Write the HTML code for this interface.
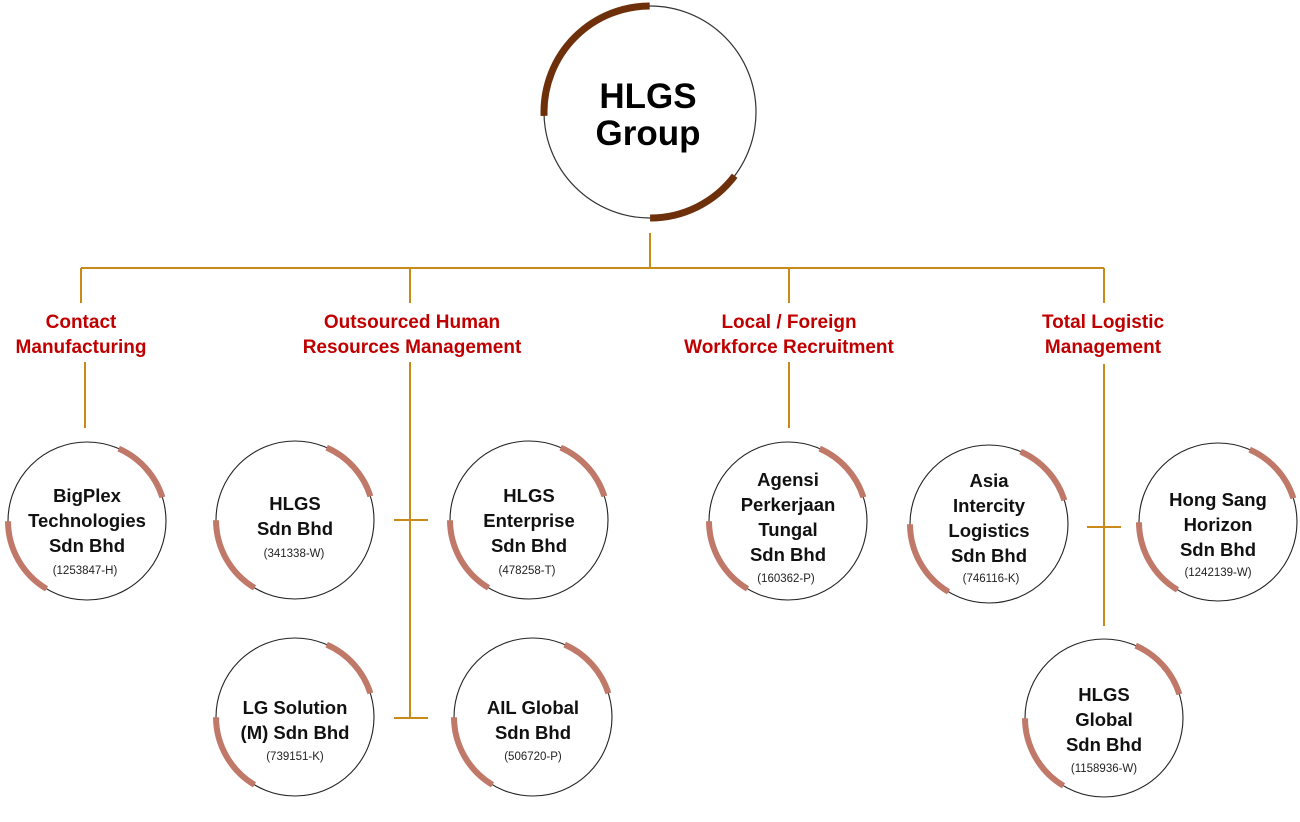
<!DOCTYPE html>
<html><head><meta charset="utf-8"><style>
html,body{margin:0;padding:0;background:#fff}
svg{display:block}
.l{stroke:#c98a1a;stroke-width:2;fill:none}
.c{fill:none;stroke:#222;stroke-width:1.1}
.a{fill:none;stroke:#c07868;stroke-width:6}
.lab{font-family:"Liberation Sans",sans-serif;font-weight:bold;font-size:19px;fill:#c00000;text-anchor:middle}
.n{font-family:"Liberation Sans",sans-serif;font-weight:bold;font-size:18.5px;fill:#111;text-anchor:middle}
.r{font-family:"Liberation Sans",sans-serif;font-size:11.5px;fill:#222;text-anchor:middle}
</style></head><body>
<svg width="1300" height="822" viewBox="0 0 1300 822">
<defs>
<g id="nd">
<circle class="c" r="79"/>
<circle class="a" r="79" pathLength="360" stroke-dasharray="49 311" stroke-dashoffset="66"/>
<circle class="a" r="79" pathLength="360" stroke-dasharray="59 301" stroke-dashoffset="239"/>
</g>
</defs>
<circle cx="650" cy="112" r="106" fill="none" stroke="#333" stroke-width="1.2"/>
<circle cx="650" cy="112" r="106" fill="none" stroke="#6e300b" stroke-width="7" pathLength="360" stroke-dasharray="92 268" stroke-dashoffset="182"/>
<circle cx="650" cy="112" r="106" fill="none" stroke="#6e300b" stroke-width="7" pathLength="360" stroke-dasharray="53 307" stroke-dashoffset="323"/>
<text x="648" y="108" font-family="Liberation Sans,sans-serif" font-weight="bold" font-size="35" text-anchor="middle" fill="#000">HLGS</text>
<text x="648" y="145" font-family="Liberation Sans,sans-serif" font-weight="bold" font-size="35" text-anchor="middle" fill="#000">Group</text>
<path class="l" d="M650 233V268M81 268H1104M81 268V303M410 268V303M789 268V303M1104 268V303"/>
<path class="l" d="M85 362V428M410 362V718M789 362V428M1104 364V626M394 520H428M394 718H428M1087 527H1121"/>
<text class="lab" x="81" y="328">Contact</text><text class="lab" x="81" y="353">Manufacturing</text>
<text class="lab" x="412" y="328">Outsourced Human</text><text class="lab" x="412" y="353">Resources Management</text>
<text class="lab" x="789" y="328">Local / Foreign</text><text class="lab" x="789" y="353">Workforce Recruitment</text>
<text class="lab" x="1103" y="328">Total Logistic</text><text class="lab" x="1103" y="353">Management</text>
<use href="#nd" x="87" y="521"/>
<text class="n" x="87" y="502">BigPlex</text><text class="n" x="87" y="527">Technologies</text><text class="n" x="87" y="552">Sdn Bhd</text><text class="r" x="85" y="574">(1253847-H)</text>
<use href="#nd" x="295" y="520"/>
<text class="n" x="295" y="510">HLGS</text><text class="n" x="295" y="535">Sdn Bhd</text><text class="r" x="294" y="557">(341338-W)</text>
<use href="#nd" x="529" y="520"/>
<text class="n" x="529" y="502">HLGS</text><text class="n" x="529" y="527">Enterprise</text><text class="n" x="529" y="552">Sdn Bhd</text><text class="r" x="527" y="574">(478258-T)</text>
<use href="#nd" x="788" y="521"/>
<text class="n" x="788" y="486">Agensi</text><text class="n" x="788" y="511">Perkerjaan</text><text class="n" x="788" y="536">Tungal</text><text class="n" x="788" y="561">Sdn Bhd</text><text class="r" x="786" y="582">(160362-P)</text>
<use href="#nd" x="989" y="524"/>
<text class="n" x="989" y="487">Asia</text><text class="n" x="989" y="512">Intercity</text><text class="n" x="989" y="537">Logistics</text><text class="n" x="989" y="562">Sdn Bhd</text><text class="r" x="991" y="582">(746116-K)</text>
<use href="#nd" x="1218" y="522"/>
<text class="n" x="1218" y="506">Hong Sang</text><text class="n" x="1218" y="531">Horizon</text><text class="n" x="1218" y="556">Sdn Bhd</text><text class="r" x="1218" y="576">(1242139-W)</text>
<use href="#nd" x="295" y="717"/>
<text class="n" x="295" y="714">LG Solution</text><text class="n" x="295" y="739">(M) Sdn Bhd</text><text class="r" x="295" y="760">(739151-K)</text>
<use href="#nd" x="533" y="717"/>
<text class="n" x="533" y="714">AIL Global</text><text class="n" x="533" y="739">Sdn Bhd</text><text class="r" x="533" y="760">(506720-P)</text>
<use href="#nd" x="1104" y="718"/>
<text class="n" x="1104" y="701">HLGS</text><text class="n" x="1104" y="726">Global</text><text class="n" x="1104" y="751">Sdn Bhd</text><text class="r" x="1104" y="772">(1158936-W)</text>
</svg>
</body></html>
